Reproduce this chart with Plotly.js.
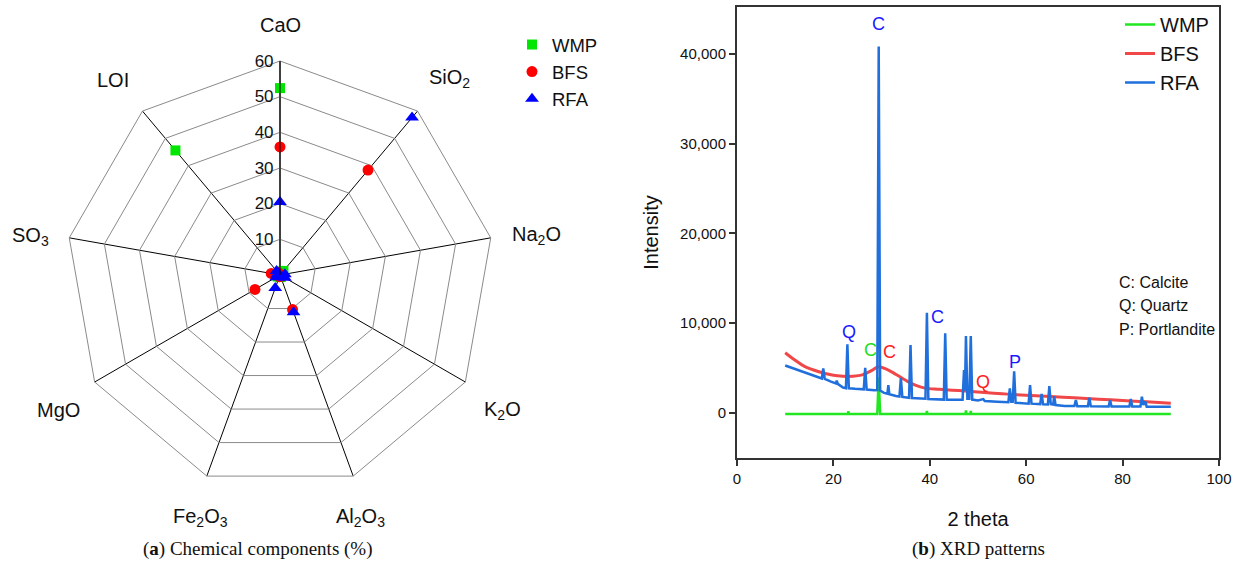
<!DOCTYPE html>
<html>
<head>
<meta charset="utf-8">
<script src="https://cdn.plot.ly/plotly-3.0.1.min.js"></script>
<style>
html,body{margin:0;padding:0;background:#fff;}
#chart{width:1239px;height:568px;}
</style>
</head>
<body>
<div id="chart"></div>
<script>
// ---- (a) chemical components (%) ----
const categories = ['CaO','SiO<sub>2</sub>','Na<sub>2</sub>O','K<sub>2</sub>O','Al<sub>2</sub>O<sub>3</sub>','Fe<sub>2</sub>O<sub>3</sub>','MgO','SO<sub>3</sub>','LOI'];
const wmpComp = [52.4, 1.5, 0.3, 0.2, 0.6, 0.4, 0.8, 0.2, 45.6];
const bfsComp = [35.9, 38.4, 0.5, 0.6, 10.3, 0.5, 8.1, 2.5, 1.0];
const rfaComp = [20.5, 57.6, 1.4, 1.6, 11.1, 3.9, 1.2, 0.8, 1.5];
const radialTicks = [10, 20, 30, 40, 50, 60];

// ---- (b) XRD patterns ----
const wmpTheta = [10, 23.0, 23.1, 23.2, 29.1, 29.4, 29.7, 39.3, 39.4, 39.5, 47.4, 47.5, 47.6, 48.4, 48.5, 48.6, 90];
const wmpInt   = [-100, -100, 200, -100, -100, 3980, -100, -100, 250, -100, -100, 300, -100, -100, 250, -100, -100];

const bfsTheta = [10, 12, 14, 17, 20, 22, 24, 26, 28, 29.3, 31, 33, 35, 37, 39, 42, 46, 50, 55, 60, 65, 70, 75, 80, 85, 90];
const bfsInt   = [6720, 5900, 5200, 4600, 4200, 4100, 4100, 4250, 4750, 5160, 4900, 4300, 3650, 3100, 2780, 2650, 2500, 2350, 2150, 1980, 1850, 1700, 1550, 1400, 1250, 1100];

const rfaTheta = [10, 12, 14, 16, 17.6, 17.9, 18.2, 19.5, 20.5, 20.7, 20.9, 22.0, 22.6, 22.9, 23.2, 24.5, 26.3, 26.6, 26.9, 28.5, 29.1, 29.4, 29.7, 30.5, 31.2, 31.4, 31.6, 33.0, 33.7, 34.0, 34.3, 35.7, 36.0, 36.3, 38.0, 39.1, 39.4, 39.7, 42.9, 43.2, 43.5, 46.8, 47.1, 47.3, 47.5, 47.8, 48.2, 48.5, 48.8, 50, 51.1, 51.4, 54, 56.3, 56.6, 56.9, 57.2, 57.5, 57.8, 60.5, 60.8, 61.1, 62.9, 63.2, 63.5, 64.5, 64.8, 65.1, 65.6, 65.8, 66.1, 68, 70.0, 70.3, 70.6, 72.8, 73.1, 73.4, 77.1, 77.4, 77.7, 81.4, 81.7, 82.0, 83.7, 84.0, 84.3, 84.7, 85.0, 90];
const rfaInt   = [5300, 4900, 4500, 4100, 3850, 4980, 3800, 3500, 3300, 3600, 3250, 2850, 2780, 7650, 2760, 2700, 2640, 5050, 2620, 2550, 2560, 40800, 2500, 2250, 2150, 3120, 2100, 1900, 1830, 3930, 1800, 1700, 7570, 1680, 1620, 1600, 11170, 1560, 1500, 8880, 1490, 1480, 4790, 2500, 8580, 1600, 1600, 8580, 1500, 1400, 1550, 1350, 1260, 1200, 2750, 1250, 1250, 4650, 1150, 1050, 3120, 1050, 1000, 2120, 980, 960, 3010, 1000, 950, 1890, 900, 800, 780, 1450, 770, 760, 1700, 760, 740, 1450, 740, 730, 1560, 730, 720, 1820, 900, 1300, 710, 700];

const peakLabels = ['C', 'Q', 'C', 'C', 'C', 'Q', 'P'];
const peakTheta  = [29.3, 23.2, 27.6, 31.7, 41.7, 51.0, 57.7];
const peakInt    = [43300, 9000, 7000, 6800, 10700, 3450, 5700];
const peakColors = ['#1a1aff', '#1a1aff', '#22dd22', '#ff2020', '#1a1aff', '#ff2020', '#1a1aff'];
const phaseKey = ['C: Calcite', 'Q: Quartz', 'P: Portlandite'];

const GREEN = '#00e600', RED = '#ff0000', BLUE = '#0000ff';
const LG = '#22e622', LR = '#f04848', LB = '#1f6fdc';
const FONT = 'Liberation Sans, Arial, sans-serif';

// label positions of the angular categories (pixels in the 1239x568 page)
const catLabelPos = [[280,25],[449,79],[536,235],[502,410],[360,517],[200,517],[58,410],[30,237],[113,80]];

const traces = [
  {type:'scatterpolar', r: wmpComp, theta: categories, mode:'markers', name:'WMP',
   marker:{symbol:'square', size:10, color:GREEN}, legend:'legend'},
  {type:'scatterpolar', r: bfsComp, theta: categories, mode:'markers', name:'BFS',
   marker:{symbol:'circle', size:11, color:RED}, legend:'legend'},
  {type:'scatterpolar', r: rfaComp, theta: categories, mode:'markers', name:'RFA',
   marker:{symbol:'triangle-up', size:12, color:BLUE}, legend:'legend'},
  {type:'scatter', x: wmpTheta, y: wmpInt, mode:'lines', name:'WMP', line:{color:LG, width:2.5}, legend:'legend2'},
  {type:'scatter', x: bfsTheta, y: bfsInt, mode:'lines', name:'BFS', line:{color:LR, width:3, shape:'spline'}, legend:'legend2'},
  {type:'scatter', x: rfaTheta, y: rfaInt, mode:'lines', name:'RFA', line:{color:LB, width:2.5}, legend:'legend2'}
];

const annotations = [];
for (let i = 0; i < peakLabels.length; i++) {
  annotations.push({xref:'x', yref:'y', x: peakTheta[i], y: peakInt[i], text: peakLabels[i],
    showarrow:false, font:{family:FONT, size:18, color:peakColors[i]}});
}
phaseKey.forEach((t, i) => {
  annotations.push({xref:'paper', yref:'paper', x: 1117/1239, y: 1 - (283 + i*23)/568, text: t,
    xanchor:'left', yanchor:'middle', showarrow:false, font:{family:FONT, size:16, color:'#111'}});
});
categories.forEach((c, i) => {
  annotations.push({xref:'paper', yref:'paper', x: catLabelPos[i][0]/1239, y: 1 - catLabelPos[i][1]/568, text: c,
    xanchor:'center', yanchor:'middle', showarrow:false, font:{family:FONT, size:20, color:'#111'}});
});
annotations.push({xref:'paper', yref:'paper', x: 258/1239, y: 1 - 549/568, text:'(<b>a</b>) Chemical components (%)',
  xanchor:'center', yanchor:'middle', showarrow:false, font:{family:'Liberation Serif, DejaVu Serif, serif', size:19, color:'#111'}});
annotations.push({xref:'paper', yref:'paper', x: 978/1239, y: 1 - 549/568, text:'(<b>b</b>) XRD patterns',
  xanchor:'center', yanchor:'middle', showarrow:false, font:{family:'Liberation Serif, DejaVu Serif, serif', size:19, color:'#111'}});

const layout = {
  width:1239, height:568,
  margin:{l:0, r:0, t:0, b:0},
  paper_bgcolor:'#fff', plot_bgcolor:'#fff',
  font:{family:FONT, color:'#111'},
  showlegend:true,
  polar:{
    domain:{x:[66/1239, 494/1239], y:[1-489/568, 1-61/568]},
    bgcolor:'#fff',
    gridshape:'linear',
    radialaxis:{range:[0,60], tickvals: radialTicks, angle:90, side:'counterclockwise', tickangle:90,
      showline:true, linecolor:'#000', linewidth:1, gridcolor:'#8a8a8a', gridwidth:1,
      ticks:'', tickfont:{family:FONT, size:17, color:'#111'}},
    angularaxis:{type:'category', categoryarray: categories, direction:'clockwise', rotation:90,
      showline:true, linecolor:'#8a8a8a', linewidth:1, gridcolor:'#000', gridwidth:1,
      ticks:'', showticklabels:false}
  },
  xaxis:{domain:[737/1239, 1219/1239], range:[0,100], dtick:20, tick0:0,
    showline:true, mirror:true, linecolor:'#333', linewidth:2, ticks:'outside', ticklen:6, tickwidth:2, tickcolor:'#333',
    showgrid:false, zeroline:false, tickfont:{family:FONT, size:15, color:'#111'},
    title:{text:'2 theta', font:{family:FONT, size:20, color:'#111'}, standoff:26}},
  yaxis:{domain:[1-458/568, 1-7/568], range:[-5000, 45200], tickvals:[0,10000,20000,30000,40000], tickformat:',d',
    showline:true, mirror:true, linecolor:'#333', linewidth:2, ticks:'outside', ticklen:6, tickwidth:2, tickcolor:'#333',
    showgrid:false, zeroline:false, tickfont:{family:FONT, size:15, color:'#111'},
    title:{text:'Intensity', font:{family:FONT, size:20, color:'#111'}, standoff:16}},
  legend:{x:512/1239, y:1-26/568, xanchor:'left', yanchor:'top', bgcolor:'rgba(0,0,0,0)',
    font:{family:FONT, size:18.5, color:'#111'}},
  legend2:{x:1120/1239, y:1-5/568, xanchor:'left', yanchor:'top', bgcolor:'rgba(0,0,0,0)',
    font:{family:FONT, size:20, color:'#111'}},
  annotations: annotations
};

Plotly.newPlot('chart', traces, layout, {displayModeBar:false, staticPlot:true});
</script>
</body>
</html>
